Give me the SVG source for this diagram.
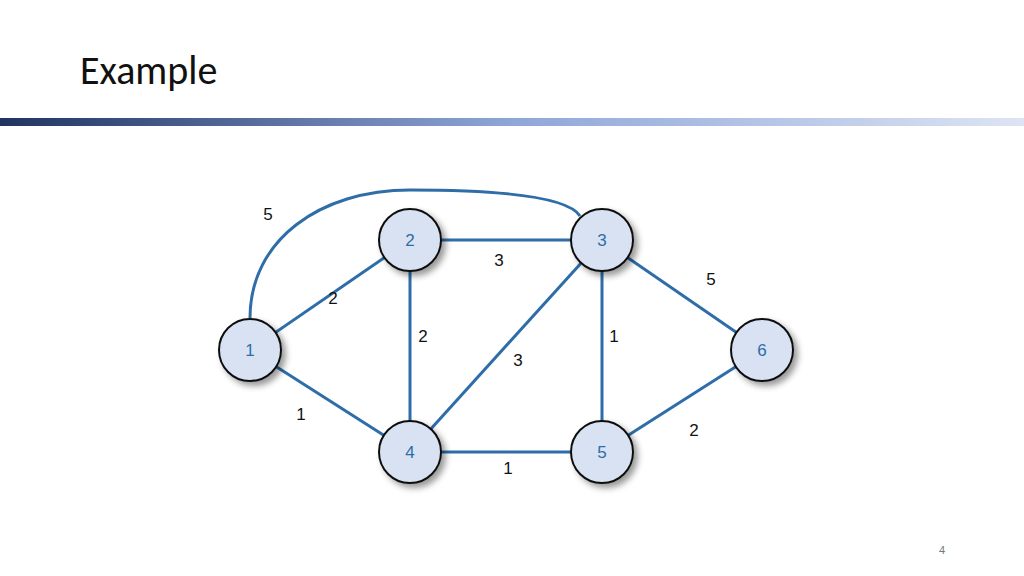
<svg xmlns="http://www.w3.org/2000/svg" width="1024" height="576" viewBox="0 0 1024 576">
<defs>
<linearGradient id="bar" x1="0" x2="1"><stop offset="0" stop-color="#1f3461"/><stop offset="0.5" stop-color="#8ea6d8"/><stop offset="1" stop-color="#dde4f4"/></linearGradient>
<filter id="sh" x="-30%" y="-30%" width="170%" height="170%"><feDropShadow dx="4" dy="4" stdDeviation="3" flood-color="#000" flood-opacity="0.4"/></filter>
<style>
.e{stroke:#2e6da8;stroke-width:3;fill:none}
.n circle{fill:#d9e2f2;stroke:#111;stroke-width:2;filter:url(#sh)}
.n text{font-family:"Liberation Sans",sans-serif;font-size:17px;fill:#2e6da8;text-anchor:middle}
.w{font-family:"Liberation Sans",sans-serif;font-size:17px;fill:#111;text-anchor:middle}
</style>
</defs>
<rect width="1024" height="576" fill="#fff"/>
<text x="80" y="84" font-family="Calibri,'Liberation Sans',sans-serif" font-size="40" fill="#111">Example</text>
<rect x="0" y="118" width="1024" height="8" fill="url(#bar)"/>
<g id="connectors">
<path class="e" d="M250 318 C250 240 320 190 410 190 C520 190 570 200 580 216"/>
<line class="e" x1="250" y1="350" x2="410" y2="240"/>
<line class="e" x1="250" y1="350" x2="410" y2="452"/>
<line class="e" x1="410" y1="240" x2="602" y2="240"/>
<line class="e" x1="410" y1="240" x2="410" y2="452"/>
<line class="e" x1="602" y1="240" x2="410" y2="452"/>
<line class="e" x1="602" y1="240" x2="602" y2="452"/>
<line class="e" x1="602" y1="240" x2="762" y2="350"/>
<line class="e" x1="410" y1="452" x2="602" y2="452"/>
<line class="e" x1="602" y1="452" x2="762" y2="350"/>
</g>
<g id="weights">
<text class="w" x="268" y="220">5</text>
<text class="w" x="499" y="266">3</text>
<text class="w" x="333" y="304">2</text>
<text class="w" x="423" y="342">2</text>
<text class="w" x="518" y="366">3</text>
<text class="w" x="614" y="342">1</text>
<text class="w" x="711" y="285">5</text>
<text class="w" x="301" y="420">1</text>
<text class="w" x="694" y="436">2</text>
<text class="w" x="508" y="474">1</text>
</g>
<g id="n1" class="n"><circle cx="250" cy="350" r="31"/><text x="250" y="356">1</text></g>
<g id="n2" class="n"><circle cx="410" cy="240" r="31"/><text x="410" y="246">2</text></g>
<g id="n3" class="n"><circle cx="602" cy="240" r="31"/><text x="602" y="246">3</text></g>
<g id="n4" class="n"><circle cx="410" cy="452" r="31"/><text x="410" y="458">4</text></g>
<g id="n5" class="n"><circle cx="602" cy="452" r="31"/><text x="602" y="458">5</text></g>
<g id="n6" class="n"><circle cx="762" cy="350" r="31"/><text x="762" y="356">6</text></g>
<text x="942" y="554" font-family="'Liberation Sans',sans-serif" font-size="11" fill="#777" text-anchor="middle">4</text>
</svg>
